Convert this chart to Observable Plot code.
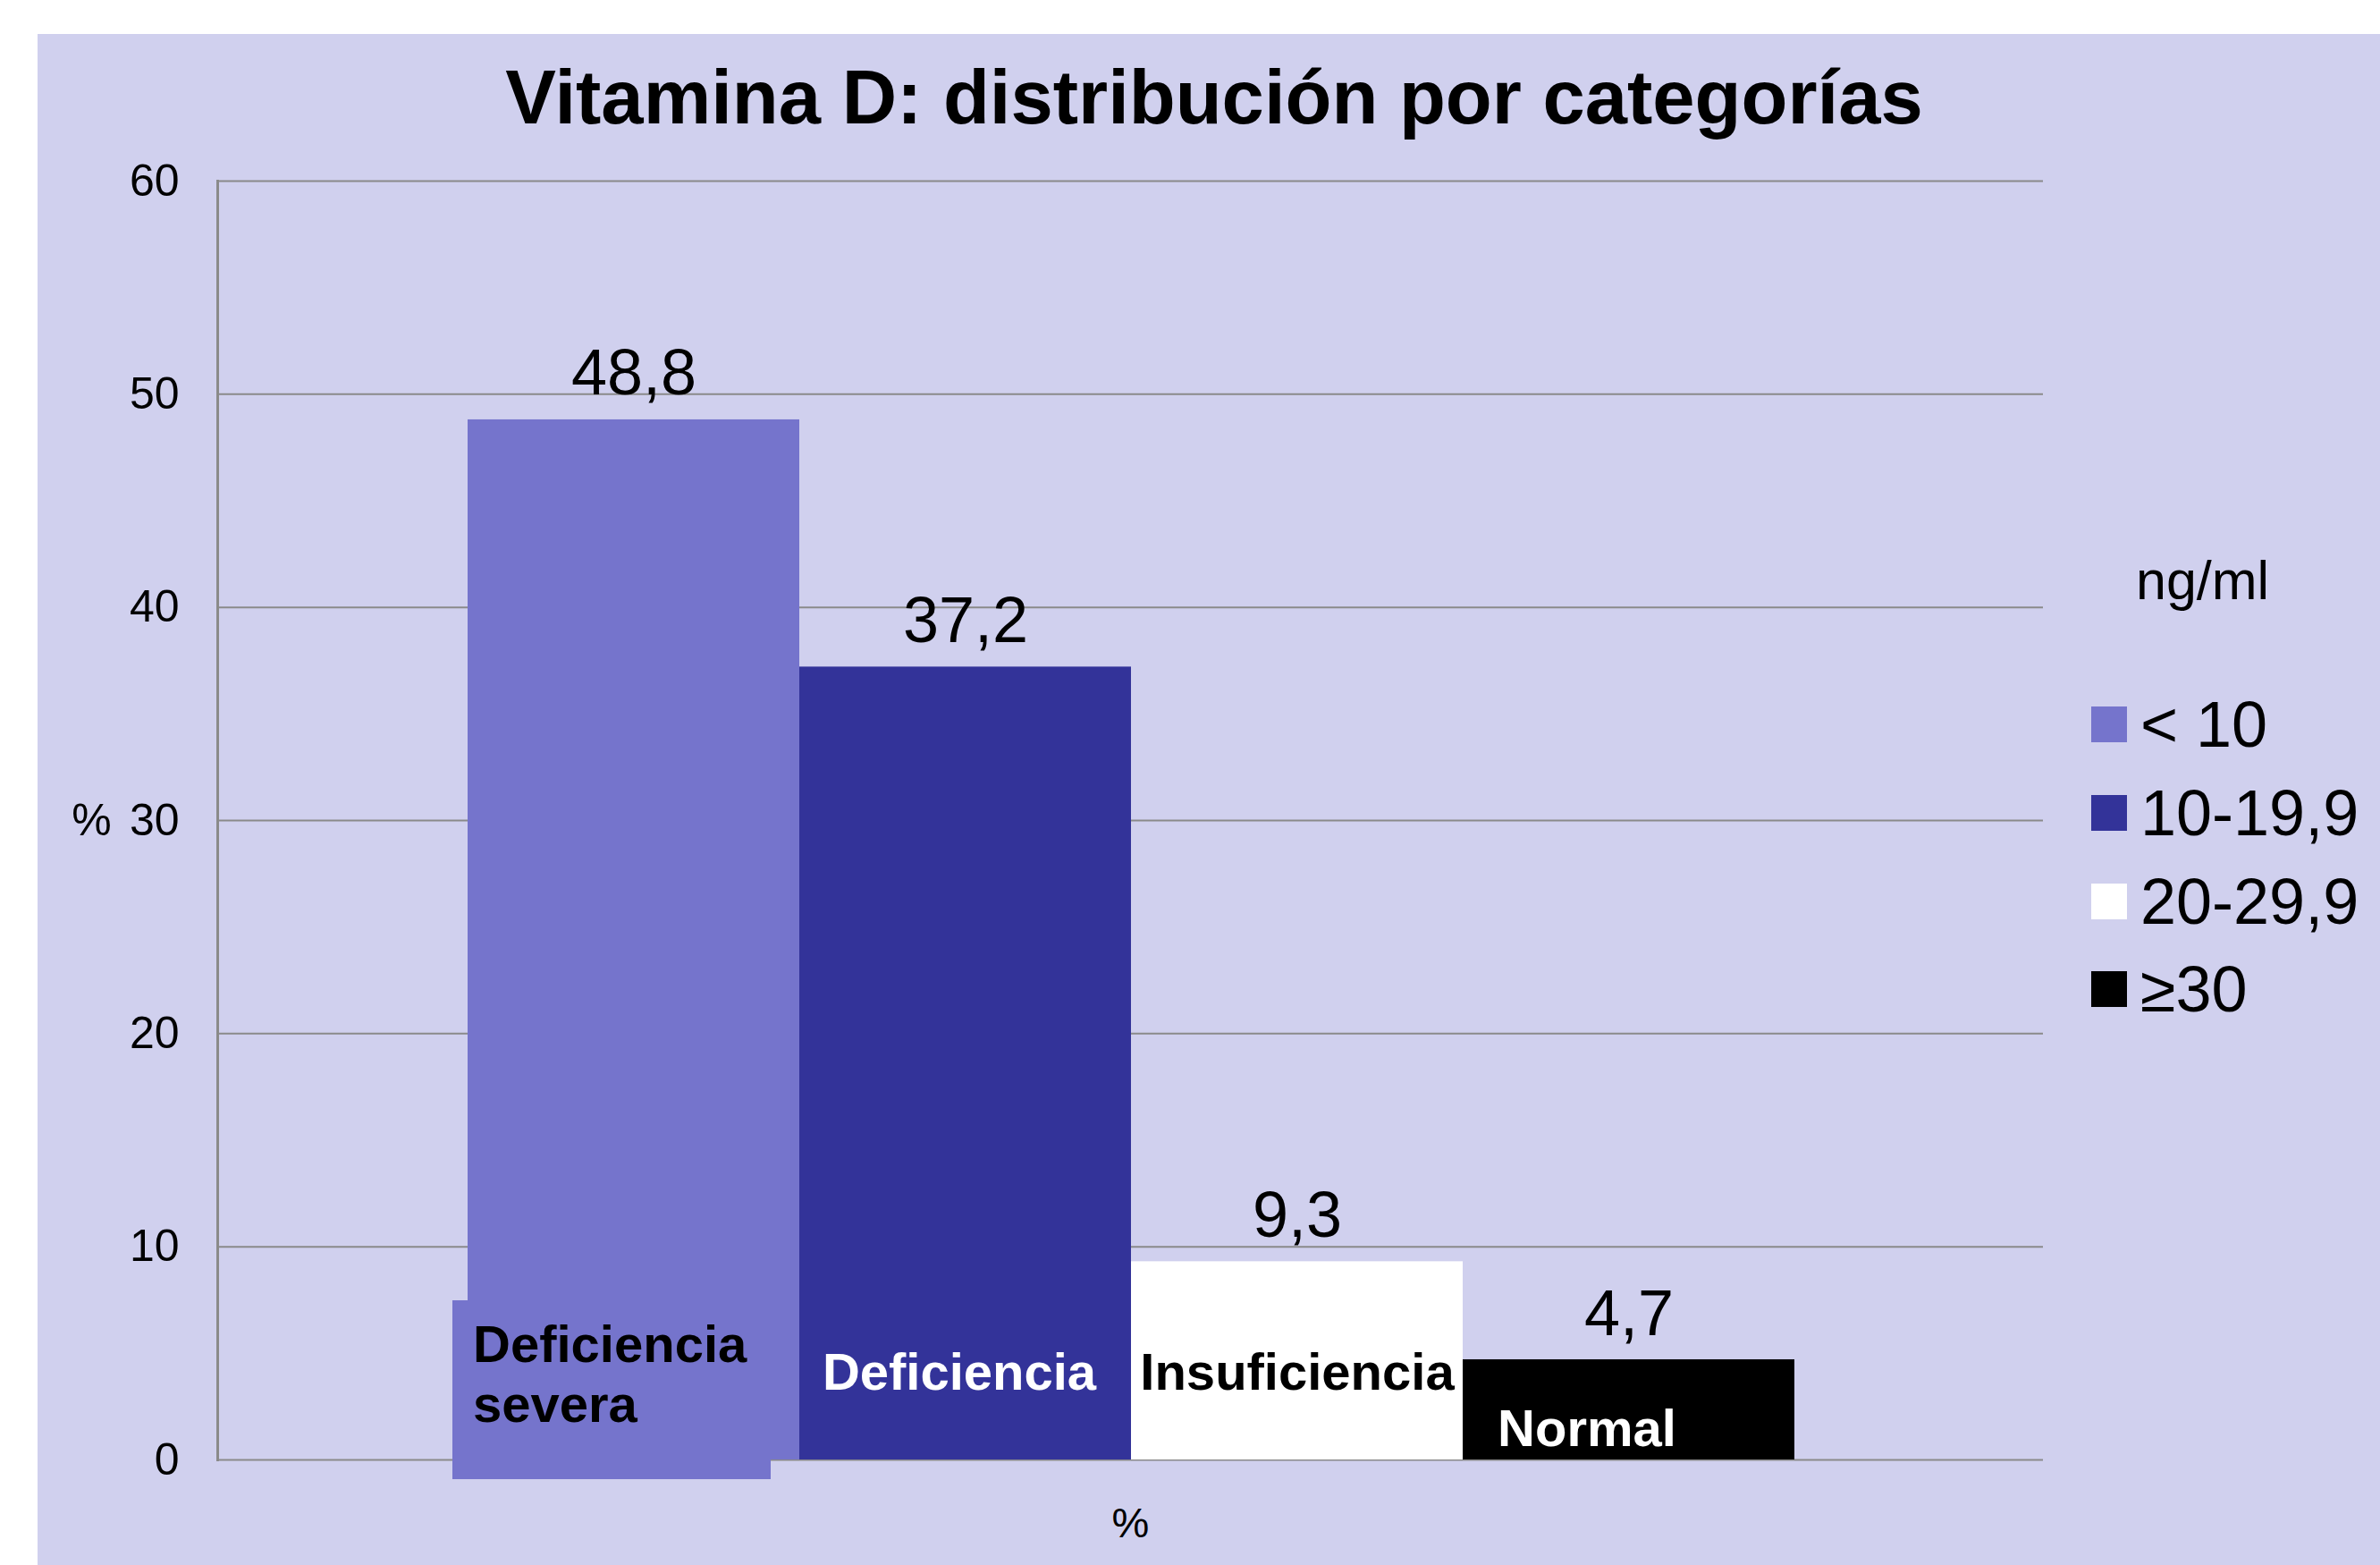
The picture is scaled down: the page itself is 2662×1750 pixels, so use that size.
<!DOCTYPE html>
<html>
<head>
<meta charset="utf-8">
<script src="https://cdn.jsdelivr.net/npm/d3@7"></script>
<script src="https://cdn.jsdelivr.net/npm/@observablehq/plot@0.6"></script>
<style>
  html, body { margin: 0; padding: 0; background: #ffffff; }
  body { width: 2662px; height: 1750px; position: relative; overflow: hidden;
         font-family: "Liberation Sans", Arial, sans-serif; color: #000; }
  #panel { position: absolute; left: 42px; top: 38px; width: 2620px; height: 1712px;
           background: rgb(208,208,238); }
  #chart { position: absolute; left: 0; top: 0; }
  #title { position: absolute; left: 1358px; top: 66px; transform: translateX(-50%);
           font-size: 85px; font-weight: bold; line-height: 85px; white-space: nowrap; }
  #legendTitle { position: absolute; left: 2389px; top: 619px; font-size: 61px; line-height: 60px; }
  .lrow { position: absolute; left: 2339px; height: 72px; display: flex; align-items: center;
          font-size: 72px; line-height: 72px; white-space: nowrap; }
  .sw { width: 40px; height: 40px; margin-right: 15px; flex: none; }
</style>
</head>
<body>
<div id="panel"><div id="chart"></div></div>
<div id="title"></div>
<div id="legendTitle"></div>
<div id="legend"></div>
<script>
const titleText = "Vitamina D: distribución por categorías";
const legendTitle = "ng/ml";
const series = ["< 10", "10-19,9", "20-29,9", "≥30"];
const categories = ["Deficiencia\nsevera", "Deficiencia", "Insuficiencia", "Normal"];
const values = [48.8, 37.2, 9.3, 4.7];
const colors = ["#7574CC", "#333399", "#FFFFFF", "#000000"];
const labelColors = ["#000000", "#FFFFFF", "#000000", "#FFFFFF"];
const yTicks = [0, 10, 20, 30, 40, 50, 60];
const yLabel = "%";
const xLabel = "%";

const data = series.map((s, i) => ({series: s, category: categories[i], value: values[i], labelColor: labelColors[i]}));

document.getElementById("title").textContent = titleText;
document.getElementById("legendTitle").textContent = legendTitle;
const legend = document.getElementById("legend");
const rowCenters = [810, 909, 1008, 1106];
series.forEach((s, i) => {
  const row = document.createElement("div");
  row.className = "lrow";
  row.style.top = (rowCenters[i] - 36) + "px";
  const sw = document.createElement("div");
  sw.className = "sw";
  sw.style.background = colors[i];
  const t = document.createElement("span");
  t.textContent = s;
  row.appendChild(sw); row.appendChild(t);
  legend.appendChild(row);
});

const fmt = v => String(v).replace(".", ",");

const chart = Plot.plot({
  width: 2620,
  height: 1712,
  marginLeft: 201,
  marginRight: 377,
  marginTop: 164,
  marginBottom: 118,
  style: {background: "transparent", fontFamily: "'Liberation Sans', Arial, sans-serif", color: "#000", overflow: "visible"},
  x: {type: "band", domain: series, range: [479, 1966], padding: 0, axis: null},
  y: {domain: [0, 60], axis: null},
  color: {domain: series, range: colors},
  marks: [
    Plot.gridY({ticks: yTicks, stroke: "#8a8a8a", strokeOpacity: 1, strokeWidth: 2}),
    Plot.frame({anchor: "left", stroke: "#8a8a8a", strokeWidth: 3}),
    Plot.axisY({ticks: yTicks, tickSize: 0, tickPadding: 43, fontSize: 50, label: null, fill: "#000"}),
    Plot.barY(data, {x: "series", y: "value", fill: "series"}),
    Plot.barY(data.slice(0, 1), {x: "series", y1: 0, y2: 0, fill: "series",
      insetTop: -178, insetBottom: -22, insetLeft: -17, insetRight: 32}),
    Plot.text(data, {x: "series", y: "value", text: d => fmt(d.value), dy: -51,
      fontSize: 72, fill: "#000", lineAnchor: "middle"}),
    Plot.text(data.slice(0, 1), {x: "series", y: 0, text: "category", textAnchor: "start",
      dx: -180, dy: -97, fontSize: 58, fontWeight: "bold", fill: "labelColor", lineHeight: 1.155, lineAnchor: "middle"}),
    Plot.text(data.slice(1, 2), {x: "series", y: 0, text: "category", dx: -7, dy: -97,
      fontSize: 58, fontWeight: "bold", fill: "labelColor", lineAnchor: "middle"}),
    Plot.text(data.slice(2, 3), {x: "series", y: 0, text: "category", dx: 0, dy: -97,
      fontSize: 58, fontWeight: "bold", fill: "labelColor", lineAnchor: "middle"}),
    Plot.text(data.slice(3, 4), {x: "series", y: 0, text: "category", dx: -47, dy: -34,
      fontSize: 58, fontWeight: "bold", fill: "labelColor", lineAnchor: "middle"}),
    Plot.text([yLabel], {text: d => d, frameAnchor: "left", textAnchor: "middle", dx: -141, fontSize: 50, fill: "#000", lineAnchor: "middle"}),
    Plot.text([xLabel], {text: d => d, frameAnchor: "bottom", textAnchor: "middle", dy: 71, fontSize: 47, fill: "#000", lineAnchor: "middle"})
  ]
});
document.getElementById("chart").appendChild(chart);
</script>
</body>
</html>
